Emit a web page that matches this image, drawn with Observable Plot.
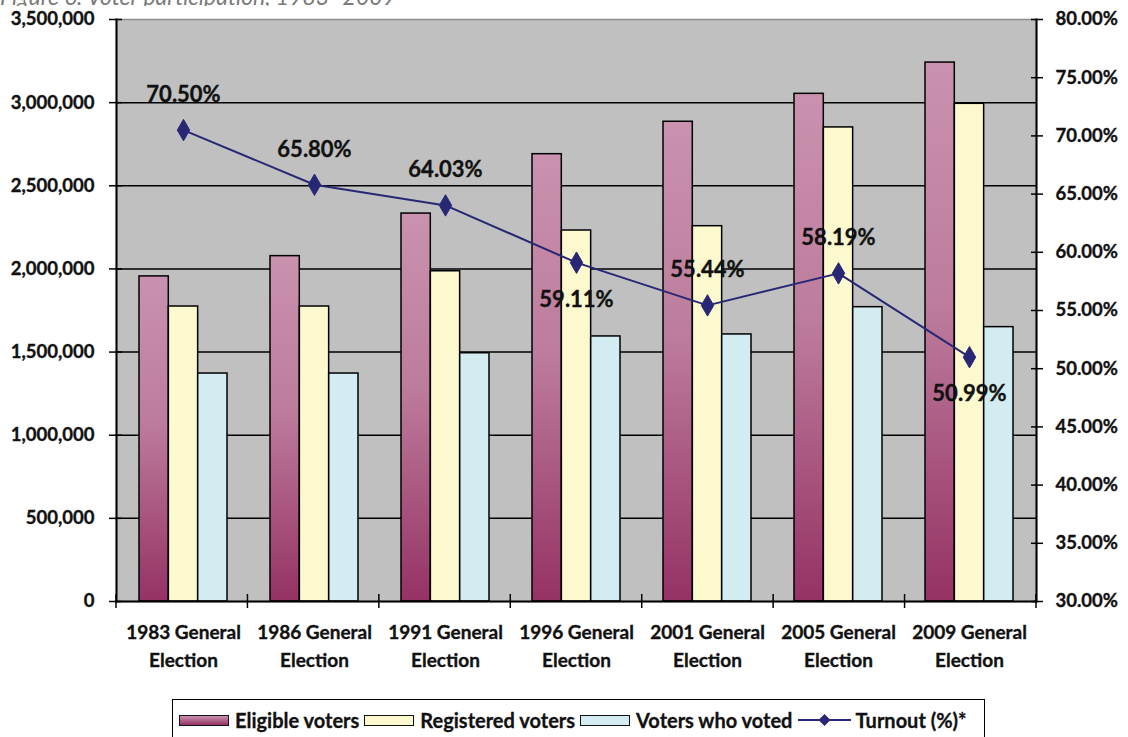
<!DOCTYPE html>
<html>
<head>
<meta charset="utf-8">
<script src="https://cdn.jsdelivr.net/npm/d3@7"></script>
<script src="https://cdn.jsdelivr.net/npm/@observablehq/plot@0.6"></script>
<style>
  html, body { margin: 0; padding: 0; background: #fff; }
  body { width: 1128px; height: 737px; overflow: hidden; position: relative; font-family: Lato, "Open Sans", sans-serif; }
  #title { position: absolute; left: 0; top: 0; width: 700px; height: 6px; overflow: hidden; z-index: 2; }
  #title span { display: block; margin-top: -18px; font-style: italic; font-size: 23px; color: #7a7a7a; white-space: nowrap; }
  #chart { position: absolute; left: 0; top: 0; }
  #chart svg text { stroke: #111; stroke-width: 0.35px; }
  #legend { position: absolute; left: 172px; top: 699px; width: 813px; height: 60px; border: 1.5px solid #000; box-sizing: border-box;
            display: flex; align-items: flex-start; padding: 9px 0 0 6px; font-weight: bold; font-size: 20px; color: #111;
            -webkit-text-stroke: 0.3px #111; line-height: 22px; }
  .item { display: flex; align-items: center; margin-right: 5px; }
  .sw { width: 50px; height: 11px; border: 1.5px solid #111; margin-right: 6px; box-sizing: border-box; }
</style>
</head>
<body>
<div id="title"><span>Figure 6: Voter participation, 1983–2009</span></div>
<div id="chart"></div>
<div id="legend"></div>
<script>
// ---- data ----
const categories = ["1983 General Election", "1986 General Election", "1991 General Election", "1996 General Election", "2001 General Election", "2005 General Election", "2009 General Election"];
const eligible   = [1955000, 2077000, 2333000, 2690000, 2885000, 3053000, 3241000];
const registered = [1774000, 1774000, 1986000, 2231000, 2257000, 2851000, 2993000];
const voted      = [1371000, 1371000, 1493000, 1594000, 1606000, 1770000, 1650000];
const turnout    = [70.50, 65.80, 64.03, 59.11, 55.44, 58.19, 50.99];
const labelBelow = [false, false, false, true, false, false, true];
const countTicks = [0, 500000, 1000000, 1500000, 2000000, 2500000, 3000000, 3500000];
const pctTicks   = [30, 35, 40, 45, 50, 55, 60, 65, 70, 75, 80];
const seriesNames = ["Eligible voters", "Registered voters", "Voters who voted", "Turnout (%)*"];

// ---- colours ----
const cGray = "#c0c0c0", cReg = "#fcf9cf", cVoted = "#d3ecf1", cLine = "#272775";

const countMax = countTicks[countTicks.length - 1];
const pctMin = pctTicks[0], pctMax = pctTicks[pctTicks.length - 1];
const toY = t => (t - pctMin) * countMax / (pctMax - pctMin);
const fromY = y => y * (pctMax - pctMin) / countMax + pctMin;

const rows = categories.map((c, i) => ({
  c, e: eligible[i], r: registered[i], v: voted[i], t: turnout[i], ty: toY(turnout[i]), below: labelBelow[i]
}));

const W = 1128, H = 690, ML = 116, MR = 92, MT = 19, MB = 89;
const padInner = 0.33;
const band = (W - ML - MR) / categories.length * (1 - padInner);
const third = band / 3;

const gradDefs = () => {
  const defs = d3.create("svg:defs");
  const g = defs.append("linearGradient").attr("id", "eligGrad").attr("x1", 0).attr("y1", 0).attr("x2", 0).attr("y2", 1);
  g.append("stop").attr("offset", "0%").attr("stop-color", "#c992ae");
  g.append("stop").attr("offset", "45%").attr("stop-color", "#bd7c9c");
  g.append("stop").attr("offset", "100%").attr("stop-color", "#953264");
  return defs.node();
};

const groupTicks = (index, scales, values, dims) => {
  const {width, height, marginLeft, marginRight, marginBottom} = dims;
  const step = (width - marginLeft - marginRight) / categories.length;
  const y0 = height - marginBottom;
  const g = d3.create("svg:g").attr("stroke", "#000").attr("stroke-width", 1.5);
  for (let i = 0; i <= categories.length; i++) {
    const x = marginLeft + i * step;
    g.append("line").attr("x1", x).attr("x2", x).attr("y1", y0 - 7).attr("y2", y0 + 7);
  }
  return g.node();
};

const chart = Plot.plot({
  width: W, height: H,
  marginLeft: ML, marginRight: MR, marginTop: MT, marginBottom: MB,
  x: {type: "band", domain: categories, paddingInner: padInner, paddingOuter: padInner / 2, axis: null, label: null},
  y: {domain: [0, countMax], axis: null, label: null},
  style: {fontFamily: "Lato, 'Open Sans', sans-serif", fontWeight: "bold", fontSize: "18px", color: "#111", background: "transparent", overflow: "visible"},
  marks: [
    gradDefs,
    Plot.frame({fill: cGray, stroke: "#8c8c8c", strokeWidth: 1.5}),
    Plot.ruleY(countTicks.slice(1, -1), {stroke: "#000", strokeWidth: 1.5}),
    Plot.barY(rows, {x: "c", y: "e", fill: "url(#eligGrad)", stroke: "#000", strokeWidth: 1.5, insetLeft: 0, insetRight: 2 * third}),
    Plot.barY(rows, {x: "c", y: "r", fill: cReg, stroke: "#000", strokeWidth: 1.5, insetLeft: third, insetRight: third}),
    Plot.barY(rows, {x: "c", y: "v", fill: cVoted, stroke: "#000", strokeWidth: 1.5, insetLeft: 2 * third, insetRight: 0}),
    Plot.frame({anchor: "left", stroke: "#000", strokeWidth: 2}),
    Plot.frame({anchor: "right", stroke: "#000", strokeWidth: 2}),
    Plot.frame({anchor: "bottom", stroke: "#000", strokeWidth: 2}),
    Plot.line(rows, {x: "c", y: "ty", stroke: cLine, strokeWidth: 2}),
    Plot.dot(rows, {x: "c", y: "ty", symbol: "diamond", r: 6.5, fill: cLine, stroke: cLine, strokeWidth: 1}),
    Plot.text(rows.filter(d => !d.below), {x: "c", y: "ty", text: d => d.t.toFixed(2) + "%", dy: -35, fontSize: 22, fontWeight: "bold", fill: "#111"}),
    Plot.text(rows.filter(d => d.below), {x: "c", y: "ty", text: d => d.t.toFixed(2) + "%", dy: 37, fontSize: 22, fontWeight: "bold", fill: "#111"}),
    Plot.axisY(countTicks, {anchor: "left", label: null, tickSize: 7, tickPadding: 15, tickFormat: d3.format(","), fontSize: 18.5, strokeWidth: 1.5, stroke: "#000"}),
    Plot.axisY(countTicks, {anchor: "left", label: null, tickSize: 6, dx: 6, tickFormat: () => "", strokeWidth: 1.5, stroke: "#000"}),
    Plot.axisY(pctTicks.map(toY), {anchor: "right", label: null, tickSize: 6, tickPadding: 13, tickFormat: d => fromY(d).toFixed(2) + "%", fontSize: 18.5, strokeWidth: 1.5, stroke: "#000"}),
    Plot.axisY(pctTicks.map(toY), {anchor: "right", label: null, tickSize: 6, dx: -6, tickFormat: () => "", strokeWidth: 1.5, stroke: "#000"}),
    Plot.axisX(categories, {anchor: "bottom", label: null, tickSize: 0, tickPadding: 17, tickFormat: d => d.replace(" Election", "\nElection"), lineHeight: 1.5, fontSize: 19, fontWeight: "bold"}),
    groupTicks
  ]
});
document.getElementById("chart").appendChild(chart);

// ---- legend ----
const legend = document.getElementById("legend");
const fills = ["linear-gradient(#c992ae, #953264)", cReg, cVoted];
seriesNames.forEach((name, i) => {
  const it = document.createElement("div");
  it.className = "item";
  if (i < 3) {
    const sw = document.createElement("div");
    sw.className = "sw";
    sw.style.background = fills[i];
    it.appendChild(sw);
  } else {
    const ns = "http://www.w3.org/2000/svg";
    const s = document.createElementNS(ns, "svg");
    s.setAttribute("width", 56); s.setAttribute("height", 16);
    s.style.marginRight = "2px";
    const l = document.createElementNS(ns, "line");
    l.setAttribute("x1", 1); l.setAttribute("x2", 54); l.setAttribute("y1", 8); l.setAttribute("y2", 8);
    l.setAttribute("stroke", cLine); l.setAttribute("stroke-width", 2);
    const p = document.createElementNS(ns, "path");
    p.setAttribute("d", "M27.5,2 L33.5,8 L27.5,14 L21.5,8 Z");
    p.setAttribute("fill", cLine);
    s.appendChild(l); s.appendChild(p);
    it.appendChild(s);
  }
  const t = document.createElement("span");
  t.textContent = name;
  it.appendChild(t);
  legend.appendChild(it);
});
</script>
</body>
</html>
